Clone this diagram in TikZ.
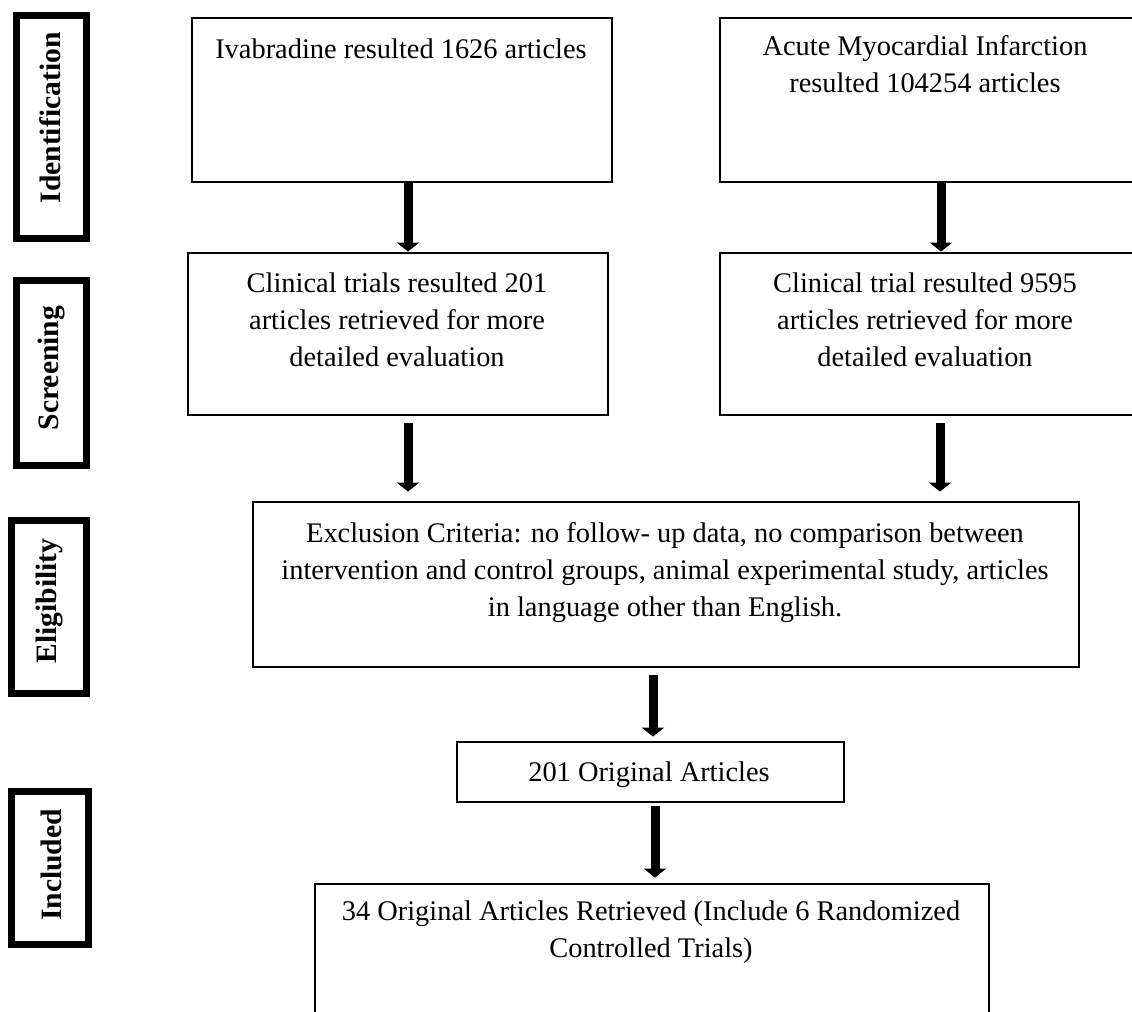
\documentclass[tikz,border=0pt]{standalone}
\usepackage{fontspec}
\setmainfont{Liberation Serif}
\usetikzlibrary{arrows.meta,fit}
\begin{document}
\begin{tikzpicture}[x=0.5pt,y=-0.5pt,
  box/.style={draw=black, line width=1.4pt, inner sep=0pt},
  side/.style={draw=black, line width=3.5pt, inner sep=0pt},
  txt/.style={inner sep=0pt, align=center, anchor=north, font=\fontsize{14.2pt}{18.5pt}\selectfont},
  sidetxt/.style={inner sep=0pt, rotate=90, font=\fontsize{14.8pt}{18pt}\selectfont\bfseries},
  arr/.style={line width=4.5pt, -{Triangle[width=11pt,length=4.5pt]}}]
\useasboundingbox (0,0) rectangle (1132,1012);
\clip (0,0) rectangle (1132,1012);

% stage labels
\node[side, fit={(16.5,15.5) (86.5,238.5)}] (sid) {};
\node[side, fit={(16.5,280.5) (86.5,465.5)}] (sscr) {};
\node[side, fit={(11.5,520.5) (86.5,693.5)}] (selig) {};
\node[side, fit={(11.5,791.5) (88.5,944.5)}] (sincl) {};
\node[sidetxt] (lid) at (50,118) {Identification};
\node[sidetxt] (lscr) at (51,368) {Screening};
\node[sidetxt] (lelig) at (49,601) {Eligibility};
\node[sidetxt] (lincl) at (51,865) {Included};

% boxes
\node[box, fit={(192,18) (612,182)}] (iva) {};
\node[box, fit={(720,18) (1136,182)}] (ami) {};
\node[box, fit={(188,253) (608,415)}] (clinL) {};
\node[box, fit={(720,253) (1136,415)}] (clinR) {};
\node[box, fit={(253,502) (1079,667)}] (excl) {};
\node[box, fit={(457,742) (844,802)}] (ori) {};
\node[box, fit={(315,884) (989,1040)}] (inc) {};

% texts
\node[txt] (ivat) at (401,38) {Ivabradine resulted 1626 articles};
\node[txt] (amit) at (925,35) {Acute Myocardial Infarction\\resulted 104254 articles};
\node[txt] (clinLt) at (397,272) {Clinical trials resulted 201\\articles retrieved for more\\detailed evaluation};
\node[txt] (clinRt) at (925,272) {Clinical trial resulted 9595\\articles retrieved for more\\detailed evaluation};
\node[txt] (exclt) at (665,522) {Exclusion Criteria: no follow- up data, no comparison between\\intervention and control groups, animal experimental study, articles\\in language other than English.};
\node[txt] (orit) at (649,761) {201 Original Articles};
\node[txt] (inct) at (651,900.5) {34 Original Articles Retrieved (Include 6 Randomized\\Controlled Trials)};

% arrows
\draw[arr] ([xshift=3pt]iva.south) -- ([xshift=3pt]iva.south |- clinL.north);
\draw[arr] ([xshift=6.5pt]ami.south) -- ([xshift=6.5pt]ami.south |- clinR.north);
\draw[arr, shorten <=3.5pt, shorten >=4.5pt] ([xshift=5pt]clinL.south) -- ([xshift=5pt]clinL.south |- excl.north);
\draw[arr, shorten <=3.5pt, shorten >=4.5pt] ([xshift=6pt]clinR.south) -- ([xshift=6pt]clinR.south |- excl.north);
\draw[arr, shorten <=3.5pt, shorten >=2pt] ([xshift=-6.5pt]excl.south) -- ([xshift=-6.5pt]excl.south |- ori.north);
\draw[arr, shorten <=1.5pt, shorten >=2.5pt] ([xshift=2.25pt]ori.south) -- ([xshift=2.25pt]ori.south |- inc.north);
\end{tikzpicture}
\end{document}
